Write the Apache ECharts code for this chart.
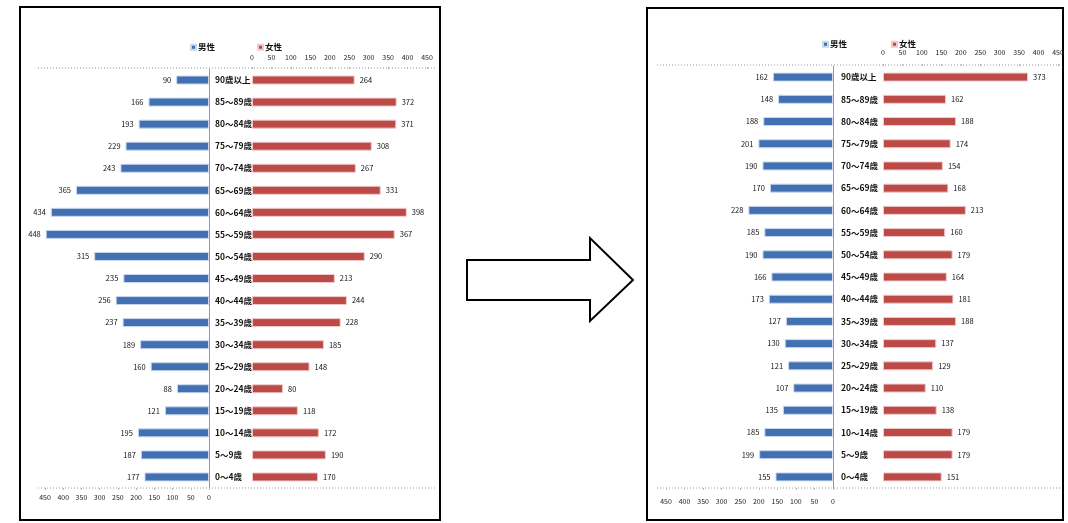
<!DOCTYPE html>
<html>
<head>
  <meta charset="utf-8">
  <title>人口ピラミッド</title>
  <script src="https://cdn.jsdelivr.net/npm/echarts@6/dist/echarts.min.js"></script>
  <style>
    html, body { margin: 0; padding: 0; background: #fff; }
    #main { width: 1068px; height: 523px; }
  </style>
</head>
<body>
<div id="main"></div>
<script>
  // 年齢階級（上から）
  var ages = ['90歳以上', '85～89歳', '80～84歳', '75～79歳', '70～74歳', '65～69歳', '60～64歳',
    '55～59歳', '50～54歳', '45～49歳', '40～44歳', '35～39歳', '30～34歳', '25～29歳',
    '20～24歳', '15～19歳', '10～14歳', '5～9歳', '0～4歳'];

  // 左のグラフ
  var leftMale = [90, 166, 193, 229, 243, 365, 434, 448, 315, 235, 256, 237, 189, 160, 88, 121, 195, 187, 177];
  var leftFemale = [264, 372, 371, 308, 267, 331, 398, 367, 290, 213, 244, 228, 185, 148, 80, 118, 172, 190, 170];

  // 右のグラフ
  var rightMale = [162, 148, 188, 201, 190, 170, 228, 185, 190, 166, 173, 127, 130, 121, 107, 135, 185, 199, 155];
  var rightFemale = [373, 162, 188, 174, 154, 168, 213, 160, 179, 164, 181, 188, 137, 129, 110, 138, 179, 179, 151];

  var blue = '#4171B3';
  var red = '#BC4A47';
  var font = '"Noto Sans CJK JP", sans-serif';

  function valueAxis(grid, pos, inverse, margin) {
    return {
      type: 'value', gridIndex: grid, position: pos, inverse: inverse,
      min: 0, max: 450, interval: 50,
      axisLine: { show: false },
      axisTick: { show: true, length: 2, lineStyle: { color: '#bbb' } },
      splitLine: { show: false },
      axisLabel: { fontSize: 7, color: '#222', margin: margin, fontFamily: font }
    };
  }

  function catAxis(grid, showLabel, showLine, margin) {
    return {
      type: 'category', gridIndex: grid, data: ages, inverse: true,
      position: showLine ? 'right' : 'left',
      axisLine: { show: showLine, lineStyle: { color: '#999' } },
      axisTick: { show: false },
      axisLabel: {
        show: showLabel, align: 'left', margin: margin, fontSize: 8.5,
        fontWeight: 'bold', color: '#111', fontFamily: font
      }
    };
  }

  function barSeries(name, x, y, data, color, side) {
    return {
      name: name, type: 'bar', xAxisIndex: x, yAxisIndex: y, data: data,
      barWidth: 9,
      itemStyle: { color: color, borderColor: side === 'left' ? '#c9d8ee' : '#f0caca', borderWidth: 1 },
      label: {
        show: true, position: side, distance: 5, fontSize: 7.5, color: '#111', fontFamily: font
      }
    };
  }

  function dotted(x1, x2, y) {
    return {
      type: 'line', shape: { x1: x1, y1: y, x2: x2, y2: y },
      style: { stroke: '#999', lineWidth: 1, lineDash: [1, 2] }
    };
  }

  var chart = echarts.init(document.getElementById('main'));
  chart.setOption({
    animation: false,
    backgroundColor: '#fff',
    textStyle: { fontFamily: font },
    legend: [
      {
        data: ['男性', '女性'], left: 185, top: 38, itemGap: 42,
        itemWidth: 5, itemHeight: 5, icon: 'rect',
        textStyle: { fontSize: 8.5, fontWeight: 'bold', color: '#111', padding: [0, 0, 0, -3] }
      },
      {
        data: ['男性', '女性'], left: 817, top: 35, itemGap: 44,
        itemWidth: 5, itemHeight: 5, icon: 'rect',
        textStyle: { fontSize: 8.5, fontWeight: 'bold', color: '#111', padding: [0, 0, 0, -3] }
      }
    ],
    grid: [
      { left: 45, width: 164, top: 69, height: 419 },
      { left: 252, width: 175, top: 69, height: 419 },
      { left: 666, width: 167, top: 66, height: 422 },
      { left: 883, width: 175, top: 66, height: 422 }
    ],
    xAxis: [
      valueAxis(0, 'bottom', true, 6),
      valueAxis(1, 'top', false, 8),
      valueAxis(2, 'bottom', true, 10),
      valueAxis(3, 'top', false, 10)
    ],
    yAxis: [
      catAxis(0, false, true, 0),
      catAxis(1, true, false, 37),
      catAxis(2, false, true, 0),
      catAxis(3, true, false, 42)
    ],
    graphic: [
      // 枠
      { type: 'rect', shape: { x: 20, y: 7, width: 420, height: 513 },
        style: { fill: 'none', stroke: '#000', lineWidth: 2 } },
      { type: 'rect', shape: { x: 647, y: 8, width: 416, height: 512 },
        style: { fill: 'none', stroke: '#000', lineWidth: 2 } },
      // 矢印
      { type: 'polygon',
        shape: { points: [[467, 260], [590, 260], [590, 238], [633, 280], [590, 321], [590, 300], [467, 300]] },
        style: { fill: '#fff', stroke: '#000', lineWidth: 2 } },
      dotted(38, 436, 68), dotted(38, 436, 488),
      dotted(657, 1060, 65), dotted(657, 1060, 488)
    ],
    series: [
      barSeries('男性', 0, 0, leftMale, blue, 'left'),
      barSeries('女性', 1, 1, leftFemale, red, 'right'),
      barSeries('男性', 2, 2, rightMale, blue, 'left'),
      barSeries('女性', 3, 3, rightFemale, red, 'right')
    ]
  });
</script>
</body>
</html>
